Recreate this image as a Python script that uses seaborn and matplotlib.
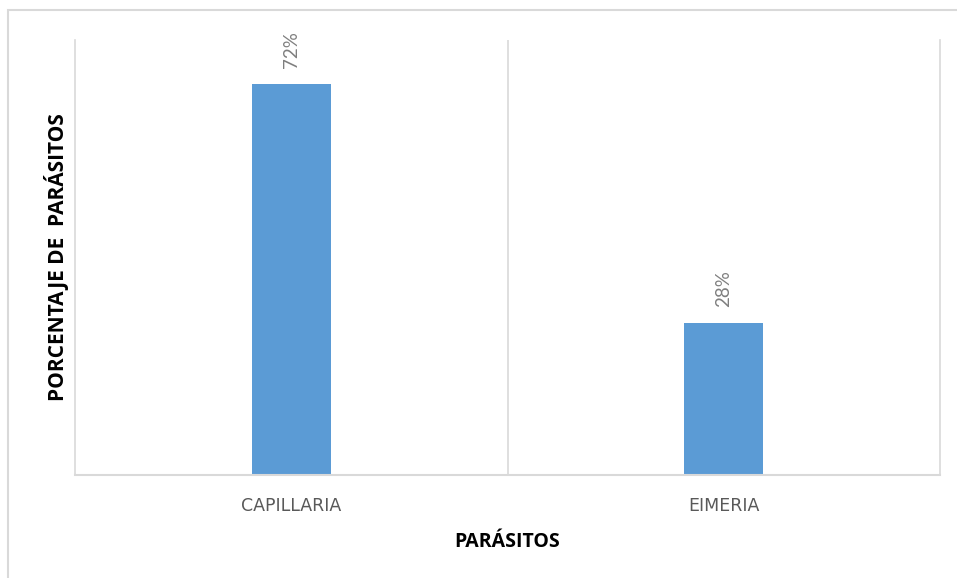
import matplotlib
matplotlib.use("Agg")
import matplotlib.pyplot as plt
import seaborn as sns
import pandas as pd
from matplotlib.patches import Rectangle

categories = ["CAPILLARIA", "EIMERIA"]
values = [0.72, 0.28]
value_labels = ["72%", "28%"]

sns.set_style("white")
plt.rcParams['font.family'] = ['Open Sans', 'DejaVu Sans']

df = pd.DataFrame({"cat": categories, "val": values})

W, H = 957, 578
fig = plt.figure(figsize=(W/100, H/100), dpi=100)
ax = fig.add_axes([75/W, 1-475/H, (940-75)/W, (475-40)/H])

sns.barplot(data=df, x="cat", y="val", color="#5B9BD5", width=0.183, ax=ax,
            saturation=1, edgecolor="#5B9BD5", linewidth=0)

ax.set_xlim(-0.5, 1.5)
ax.set_ylim(0, 0.8)
ax.set_yticks([])
ax.axvline(0.5, color="#D9D9D9", lw=1.2, zorder=0)
for s in ["left", "right"]:
    ax.spines[s].set_color("#D9D9D9")
    ax.spines[s].set_linewidth(1.2)
ax.spines["top"].set_visible(False)
ax.spines["bottom"].set_color("#D9D9D9")
ax.spines["bottom"].set_linewidth(1.5)

ax.tick_params(axis="x", length=0, pad=16, labelsize=12.5, labelcolor="#595959")
for t in ax.get_xticklabels():
    t.set_family(['DejaVu Sans'])
ax.set_xlabel("PARÁSITOS", fontsize=14, fontweight="bold", color="black", labelpad=12)
ax.set_ylabel("PORCENTAJE DE  PARÁSITOS", fontsize=15, fontweight="bold", color="black", labelpad=4)

for i, (v, lab) in enumerate(zip(values, value_labels)):
    ax.annotate(lab, xy=(i, v), xytext=(0, 11), textcoords="offset points",
                rotation=90, ha="center", va="bottom", fontsize=13.5, color="#7F7F7F",
                family=['Lato', 'DejaVu Sans'])

fig.patches.append(Rectangle((8/W, -0.05), 1.2, 1 - 10/H + 0.05, transform=fig.transFigure,
                             fill=False, edgecolor="#D9D9D9", lw=1.5))

fig.savefig("out.png", dpi=100)
